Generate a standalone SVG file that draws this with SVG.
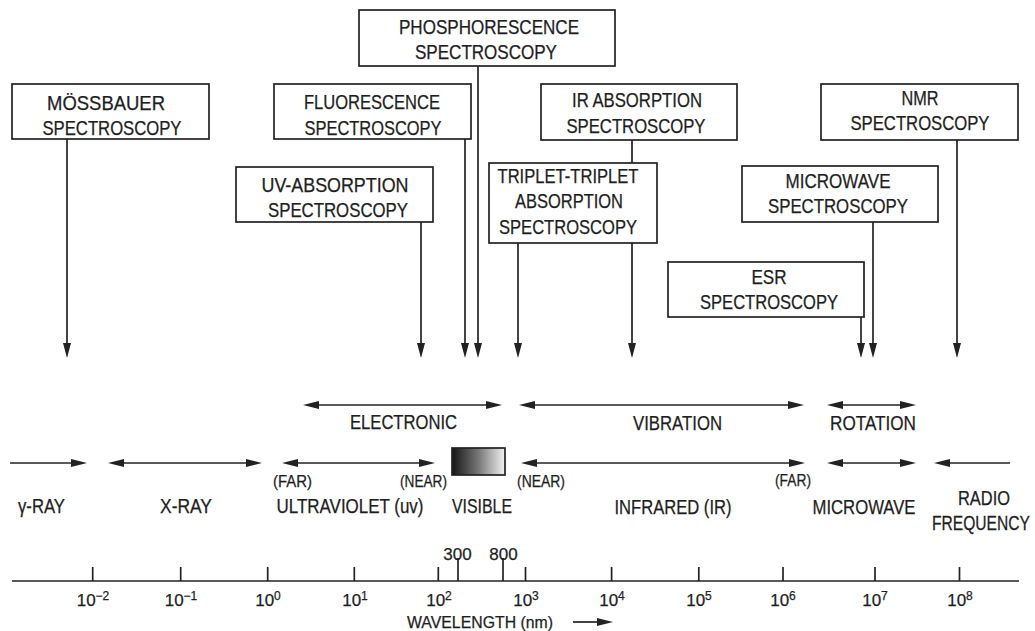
<svg xmlns="http://www.w3.org/2000/svg" width="1035" height="631" viewBox="0 0 1035 631">
<style>
.box{fill:#fff;stroke:#222;stroke-width:1.7}
.ln{fill:none;stroke:#222;stroke-width:1.7}
.vl{fill:none;stroke:#222;stroke-width:1.7;marker-end:url(#av)}
.h2{fill:none;stroke:#222;stroke-width:1.7;marker-start:url(#ah);marker-end:url(#ah)}
.he{fill:none;stroke:#222;stroke-width:1.7;marker-end:url(#ah)}
.hs{fill:none;stroke:#222;stroke-width:1.7;marker-start:url(#ah)}
text{font-family:"Liberation Sans",Arial,sans-serif;fill:#1e1e1e;stroke:#1e1e1e;stroke-width:0.25}
.t{font-size:19.5px;text-anchor:middle}
.s{font-size:16px;text-anchor:middle}
.n{font-size:17px;text-anchor:middle}
.sup{font-size:12px}
</style>
<defs>
<marker id="av" markerUnits="userSpaceOnUse" markerWidth="15" markerHeight="8" refX="7" refY="4" orient="auto"><path d="M0,0 L15,4 L0,8 z" fill="#222"/></marker>
<marker id="ah" markerUnits="userSpaceOnUse" markerWidth="16" markerHeight="8" refX="8" refY="4" orient="auto-start-reverse"><path d="M0,0 L16,4 L0,8 z" fill="#222"/></marker>
<linearGradient id="vis" x1="0" y1="0" x2="1" y2="0"><stop offset="0" stop-color="#151515"/><stop offset="0.5" stop-color="#777"/><stop offset="1" stop-color="#f2f2f2"/></linearGradient>
</defs>

<g id="connectors">
<path class="vl" d="M67,139 V350"/>
<path class="vl" d="M421,222 V350"/>
<path class="vl" d="M465,139 V350"/>
<path class="vl" d="M478,66 V350"/>
<path class="vl" d="M518,243 V350"/>
<path class="vl" d="M632,140 V163 M632,243 V350"/>
<path class="vl" d="M861,317 V350"/>
<path class="vl" d="M873,222 V350"/>
<path class="vl" d="M957,140 V350"/>
</g>

<g id="moessbauer"><rect class="box" x="12" y="84" width="197" height="55"/>
<text class="t" x="106" y="110" textLength="118" lengthAdjust="spacingAndGlyphs">MÖSSBAUER</text>
<text class="t" x="112" y="135" textLength="139" lengthAdjust="spacingAndGlyphs">SPECTROSCOPY</text></g>

<g id="fluorescence"><rect class="box" x="274" y="84" width="197" height="55"/>
<text class="t" x="372" y="109" textLength="136" lengthAdjust="spacingAndGlyphs">FLUORESCENCE</text>
<text class="t" x="373" y="135" textLength="137" lengthAdjust="spacingAndGlyphs">SPECTROSCOPY</text></g>

<g id="phosphorescence"><rect class="box" x="359" y="10" width="256" height="56"/>
<text class="t" x="489" y="34" textLength="180" lengthAdjust="spacingAndGlyphs">PHOSPHORESCENCE</text>
<text class="t" x="486" y="59" textLength="142" lengthAdjust="spacingAndGlyphs">SPECTROSCOPY</text></g>

<g id="uv-absorption"><rect class="box" x="236" y="167" width="197" height="55"/>
<text class="t" x="335" y="192" textLength="147" lengthAdjust="spacingAndGlyphs">UV-ABSORPTION</text>
<text class="t" x="338" y="217" textLength="140" lengthAdjust="spacingAndGlyphs">SPECTROSCOPY</text></g>

<g id="ir-absorption"><rect class="box" x="541" y="84" width="196" height="56"/>
<text class="t" x="637" y="107" textLength="130" lengthAdjust="spacingAndGlyphs">IR ABSORPTION</text>
<text class="t" x="636" y="133" textLength="139" lengthAdjust="spacingAndGlyphs">SPECTROSCOPY</text></g>

<g id="triplet"><rect class="box" x="489" y="163" width="168" height="80"/>
<text class="t" x="568" y="183" textLength="141" lengthAdjust="spacingAndGlyphs">TRIPLET-TRIPLET</text>
<text class="t" x="569" y="208" textLength="108" lengthAdjust="spacingAndGlyphs">ABSORPTION</text>
<text class="t" x="568" y="234" textLength="138" lengthAdjust="spacingAndGlyphs">SPECTROSCOPY</text></g>

<g id="nmr"><rect class="box" x="821" y="84" width="197" height="56"/>
<text class="t" x="920" y="105" textLength="37" lengthAdjust="spacingAndGlyphs">NMR</text>
<text class="t" x="920" y="130" textLength="139" lengthAdjust="spacingAndGlyphs">SPECTROSCOPY</text></g>

<g id="microwave-spec"><rect class="box" x="742" y="166" width="196" height="56"/>
<text class="t" x="838" y="188" textLength="105" lengthAdjust="spacingAndGlyphs">MICROWAVE</text>
<text class="t" x="838" y="213" textLength="140" lengthAdjust="spacingAndGlyphs">SPECTROSCOPY</text></g>

<g id="esr"><rect class="box" x="668" y="262" width="196" height="55"/>
<text class="t" x="769" y="284" textLength="35" lengthAdjust="spacingAndGlyphs">ESR</text>
<text class="t" x="769" y="309" textLength="138" lengthAdjust="spacingAndGlyphs">SPECTROSCOPY</text></g>

<g id="bands">
<path class="h2" d="M311,405 H494"/>
<path class="h2" d="M527,405 H796"/>
<path class="h2" d="M835,405 H908"/>
<text class="t" x="403.5" y="429" textLength="107" lengthAdjust="spacingAndGlyphs">ELECTRONIC</text>
<text class="t" x="677.5" y="430" textLength="89" lengthAdjust="spacingAndGlyphs">VIBRATION</text>
<text class="t" x="873" y="430" textLength="86" lengthAdjust="spacingAndGlyphs">ROTATION</text>
</g>

<g id="regions">
<path class="he" d="M10,463 H79"/>
<path class="h2" d="M116,463 H254"/>
<path class="h2" d="M290,463 H427"/>
<path class="h2" d="M529,463 H797"/>
<path class="h2" d="M835,463 H908"/>
<path class="hs" d="M942,463 H1010"/>
<rect x="452" y="448" width="53" height="27" fill="url(#vis)" stroke="#222" stroke-width="1.7"/>
<text class="s" x="292.5" y="487" textLength="39" lengthAdjust="spacingAndGlyphs">(FAR)</text>
<text class="s" x="423.5" y="487" textLength="47" lengthAdjust="spacingAndGlyphs">(NEAR)</text>
<text class="s" x="541" y="487" textLength="48" lengthAdjust="spacingAndGlyphs">(NEAR)</text>
<text class="s" x="793" y="486" textLength="36" lengthAdjust="spacingAndGlyphs">(FAR)</text>
<text class="t" x="41.5" y="513" textLength="47" lengthAdjust="spacingAndGlyphs">γ-RAY</text>
<text class="t" x="186" y="513" textLength="52" lengthAdjust="spacingAndGlyphs">X-RAY</text>
<text class="t" x="350" y="513" textLength="147" lengthAdjust="spacingAndGlyphs">ULTRAVIOLET (uv)</text>
<text class="t" x="482" y="513" textLength="60" lengthAdjust="spacingAndGlyphs">VISIBLE</text>
<text class="t" x="673" y="514" textLength="117" lengthAdjust="spacingAndGlyphs">INFRARED (IR)</text>
<text class="t" x="864" y="514" textLength="103" lengthAdjust="spacingAndGlyphs">MICROWAVE</text>
<text class="t" x="984" y="505" textLength="52" lengthAdjust="spacingAndGlyphs">RADIO</text>
<text x="0" y="0" font-size="19.5" transform="translate(932,530) scale(0.8,1)">FREQUENCY</text>
</g>

<g id="axis">
<path class="ln" d="M12,581 H1019"/>
<path class="ln" d="M92.7,567 V581 M180.7,567 V581 M267.7,567 V581 M354.3,567 V581 M438.3,567 V581 M525.5,567 V581 M611.6,567 V581 M698.8,567 V581 M783,567 V581 M875,567 V581 M959.5,567 V581"/>
<path class="ln" d="M458,558 V581 M503,558 V581"/>
<text class="n" x="457.5" y="560">300</text>
<text class="n" x="503.5" y="560">800</text>
<text class="n" x="93" y="606">10<tspan class="sup" dy="-6">−2</tspan></text>
<text class="n" x="181" y="606">10<tspan class="sup" dy="-6">−1</tspan></text>
<text class="n" x="268" y="606">10<tspan class="sup" dy="-6">0</tspan></text>
<text class="n" x="355" y="606">10<tspan class="sup" dy="-6">1</tspan></text>
<text class="n" x="439" y="606">10<tspan class="sup" dy="-6">2</tspan></text>
<text class="n" x="526" y="606">10<tspan class="sup" dy="-6">3</tspan></text>
<text class="n" x="612" y="606">10<tspan class="sup" dy="-6">4</tspan></text>
<text class="n" x="699" y="606">10<tspan class="sup" dy="-6">5</tspan></text>
<text class="n" x="783" y="606">10<tspan class="sup" dy="-6">6</tspan></text>
<text class="n" x="875" y="606">10<tspan class="sup" dy="-6">7</tspan></text>
<text class="n" x="960" y="606">10<tspan class="sup" dy="-6">8</tspan></text>
<text class="n" x="480" y="628" textLength="146" lengthAdjust="spacingAndGlyphs">WAVELENGTH (nm)</text>
<path class="he" d="M573,622 H605"/>
</g>
</svg>
